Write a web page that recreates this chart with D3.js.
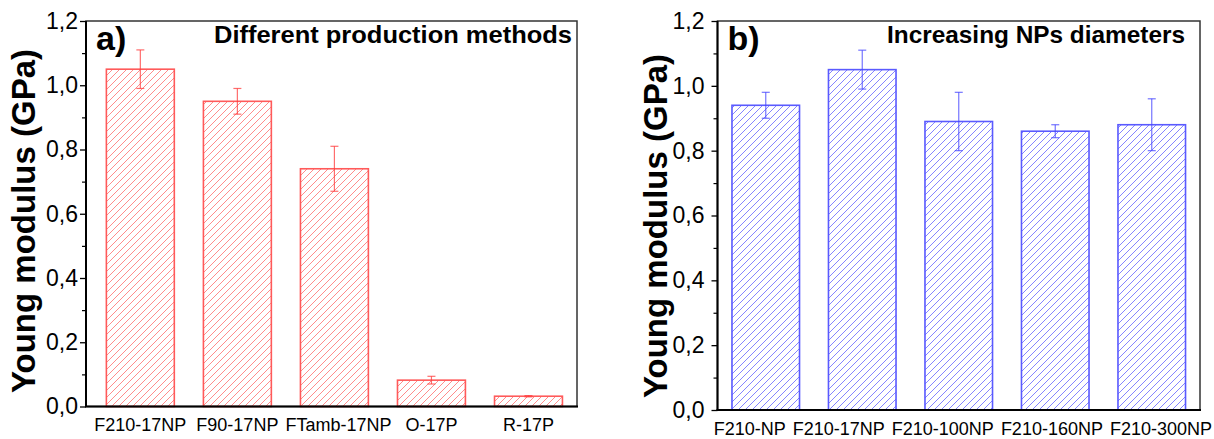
<!DOCTYPE html>
<html>
<head>
<meta charset="utf-8">
<script src="https://cdn.jsdelivr.net/npm/d3@7"></script>
<style>
  html, body { margin: 0; padding: 0; background: #fff; }
  svg { display: block; font-family: "Liberation Sans", Arial, sans-serif; }
</style>
</head>
<body>
<svg id="chart" width="1214" height="439"></svg>
<script>
// ---- data ----
const catsA = ["F210-17NP", "F90-17NP", "FTamb-17NP", "O-17P", "R-17P"];
const valsA = [1.05, 0.95, 0.74, 0.082, 0.032];
const errA  = [0.06, 0.04, 0.07, 0.012, 0.002];

const catsB = ["F210-NP", "F210-17NP", "F210-100NP", "F210-160NP", "F210-300NP"];
const valsB = [0.94, 1.05, 0.89, 0.86, 0.88];
const errB  = [0.04, 0.06, 0.09, 0.02, 0.08];

const yMajor = [0, 0.2, 0.4, 0.6, 0.8, 1.0, 1.2];
const yMinor = [0.1, 0.3, 0.5, 0.7, 0.9, 1.1];
const yTitle = "Young modulus (GPa)";
const tagA = "a)", titleA = "Different production methods";
const tagB = "b)", titleB = "Increasing NPs diameters";

const svg = d3.select("#chart");
const defs = svg.append("defs");

function hatch(id, color) {
  const p = defs.append("pattern").attr("id", id)
    .attr("patternUnits", "userSpaceOnUse").attr("width", 7).attr("height", 7);
  p.append("path").attr("d", "M-1,1 L1,-1 M0,7 L7,0 M6,8 L8,6")
    .attr("stroke", color).attr("stroke-width", 1).attr("fill", "none");
}
hatch("hatchRed", "#ff8c8c");
hatch("hatchBlue", "#8585ff");

function panel(cfg) {
  const x = d3.scaleLinear().domain(cfg.xDomain).range([cfg.left, cfg.right]);
  const y = d3.scaleLinear().domain([0, 1.2]).range([cfg.bottom, cfg.top]);
  const g = svg.append("g");
  const idx = cfg.cats.map((c, i) => i + 1);
  const bw = (x(2) - x(1)) * 0.7;

  // bars
  g.selectAll("rect.bar").data(cfg.vals).join("rect")
    .attr("class", "bar")
    .attr("x", (d, i) => x(idx[i]) - bw / 2)
    .attr("y", d => y(d))
    .attr("width", bw)
    .attr("height", d => y(0) - y(d))
    .attr("fill", `url(#${cfg.pattern})`)
    .attr("stroke", cfg.stroke).attr("stroke-width", 1.6);

  // error bars
  const eg = g.append("g").attr("stroke", cfg.err).attr("stroke-width", 1.2).attr("fill", "none");
  cfg.vals.forEach((v, i) => {
    const cx = x(idx[i]);
    const y1 = y(v + cfg.errs[i]), y2 = y(v - cfg.errs[i]);
    eg.append("line").attr("x1", cx).attr("x2", cx).attr("y1", y1).attr("y2", y2);
    eg.append("line").attr("x1", cx - 4).attr("x2", cx + 4).attr("y1", y1).attr("y2", y1);
    eg.append("line").attr("x1", cx - 4).attr("x2", cx + 4).attr("y1", y2).attr("y2", y2);
  });

  // frame
  g.append("rect").attr("x", cfg.left).attr("y", cfg.top)
    .attr("width", cfg.right - cfg.left).attr("height", cfg.bottom - cfg.top)
    .attr("fill", "none").attr("stroke", "#333").attr("stroke-width", 1.5);
  g.append("line").attr("x1", cfg.left - 1).attr("x2", cfg.right + 1)
    .attr("y1", cfg.bottom).attr("y2", cfg.bottom).attr("stroke", "#000").attr("stroke-width", 2);
  g.append("line").attr("x1", cfg.left).attr("x2", cfg.left)
    .attr("y1", cfg.top).attr("y2", cfg.bottom).attr("stroke", "#000").attr("stroke-width", 2);

  // y axis
  const ax = g.append("g").attr("transform", `translate(${cfg.left},0)`)
    .call(d3.axisLeft(y).tickValues(yMajor).tickSize(6).tickPadding(cfg.tickPad)
      .tickFormat(d => d.toFixed(1).replace(".", ",")));
  ax.select(".domain").remove();
  ax.selectAll(".tick line").attr("stroke", "#000").attr("stroke-width", 1.3);
  ax.selectAll("text").attr("font-size", 23).attr("fill", "#000")
    .attr("font-family", "'Liberation Sans', Arial, sans-serif");
  const axm = g.append("g").attr("transform", `translate(${cfg.left},0)`)
    .call(d3.axisLeft(y).tickValues(yMinor).tickSize(4).tickFormat(""));
  axm.select(".domain").remove();
  axm.selectAll(".tick line").attr("stroke", "#000").attr("stroke-width", 1.2);

  // x labels with overlap resolution
  const lbl = g.selectAll("text.xl").data(cfg.cats).join("text")
    .attr("class", "xl")
    .attr("text-anchor", "middle")
    .attr("font-size", 18)
    .attr("y", cfg.bottom + cfg.xLabOff)
    .attr("x", (d, i) => x(idx[i]))
    .text(d => d);
  const widths = [], pos = [];
  lbl.each(function(d, i) { widths.push(this.getComputedTextLength()); pos.push(x(idx[i])); });
  const gap = 7;
  for (let i = 1; i < pos.length; i++) {
    const minC = pos[i - 1] + widths[i - 1] / 2 + gap + widths[i] / 2;
    if (pos[i] < minC) pos[i] = minC;
  }
  let limit = 1212;
  for (let i = pos.length - 1; i >= 0; i--) {
    if (pos[i] + widths[i] / 2 > limit) pos[i] = limit - widths[i] / 2;
    limit = pos[i] - widths[i] / 2 - gap;
  }
  lbl.attr("x", (d, i) => pos[i]);

  // y title
  g.append("text")
    .attr("transform", `translate(${cfg.yTitleX},${cfg.yTitleY}) rotate(-90)`)
    .attr("text-anchor", "middle").attr("font-size", 33).attr("font-weight", "bold")
    .text(yTitle);

  // tag and title
  g.append("text").attr("x", cfg.left + 10).attr("y", cfg.top + 29)
    .attr("font-size", 34).attr("font-weight", "bold").text(cfg.tag);
  g.append("text").attr("x", cfg.titleEnd).attr("y", cfg.top + 22)
    .attr("text-anchor", "end").attr("font-size", 24).attr("font-weight", "bold")
    .attr("textLength", cfg.titleLen).attr("lengthAdjust", "spacingAndGlyphs")
    .text(cfg.title);
}

panel({
  cats: catsA, vals: valsA, errs: errA,
  left: 86, right: 577, top: 21, bottom: 406.5, xDomain: [0.44, 5.5],
  pattern: "hatchRed", stroke: "#ff5a5a", err: "rgba(255,60,60,0.75)",
  tickPad: 2, xLabOff: 24.5, yTitleX: 35, yTitleY: 221,
  tag: tagA, title: titleA, titleEnd: 572, titleLen: 358
});
panel({
  cats: catsB, vals: valsB, errs: errB,
  left: 717.5, right: 1200, top: 21, bottom: 410, xDomain: [0.5, 5.5],
  pattern: "hatchBlue", stroke: "#5a5aff", err: "rgba(70,70,255,0.75)",
  tickPad: 7, xLabOff: 24.5, yTitleX: 667, yTitleY: 226,
  tag: tagB, title: titleB, titleEnd: 1185, titleLen: 298
});
</script>
</body>
</html>
